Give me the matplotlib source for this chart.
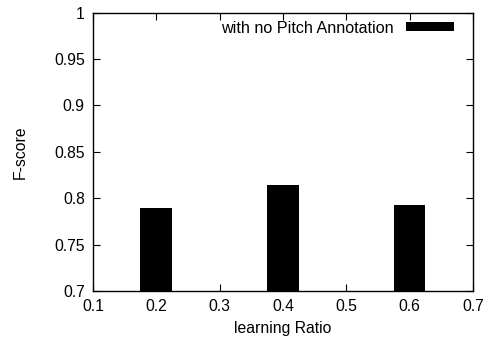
import matplotlib
matplotlib.use("Agg")
import matplotlib.pyplot as plt

# data
ratios = [0.2, 0.4, 0.6]
fscore = [0.790, 0.814, 0.793]
xticks = [0.1, 0.2, 0.3, 0.4, 0.5, 0.6, 0.7]
yticks = [0.7, 0.75, 0.8, 0.85, 0.9, 0.95, 1.0]
xtick_labels = ["0.1", "0.2", "0.3", "0.4", "0.5", "0.6", "0.7"]
ytick_labels = ["0.7", "0.75", "0.8", "0.85", "0.9", "0.95", "1"]

plt.rcParams["font.family"] = ["Liberation Sans", "DejaVu Sans"]
FS = 11.3

fig = plt.figure(figsize=(4.92, 3.40), dpi=100)
ax = fig.add_axes([0.189, 0.144, 0.772, 0.819])
ax.bar(ratios, fscore, width=0.05, color="black", label="with no Pitch Annotation")

ax.set_xlim(0.1, 0.7); ax.set_ylim(0.7, 1.0)
ax.set_xticks(xticks); ax.set_xticklabels(xtick_labels)
ax.set_yticks(yticks); ax.set_yticklabels(ytick_labels)
ax.tick_params(direction="in", top=True, right=True, length=5, width=0.8, labelsize=FS, pad=6, colors="black")
for s in ax.spines.values():
    s.set_linewidth(1.0)
ax.set_xlabel("learning Ratio", fontsize=FS, labelpad=5)
ax.set_ylabel("F-score", fontsize=FS, labelpad=19)

ax.legend(loc="upper right", bbox_to_anchor=(0.98, 1.012), frameon=False, markerfirst=False,
          fontsize=11.6, handlelength=3.0, handleheight=0.45, handletextpad=0.75, borderpad=0.2)

fig.savefig("out.png", dpi=100)
